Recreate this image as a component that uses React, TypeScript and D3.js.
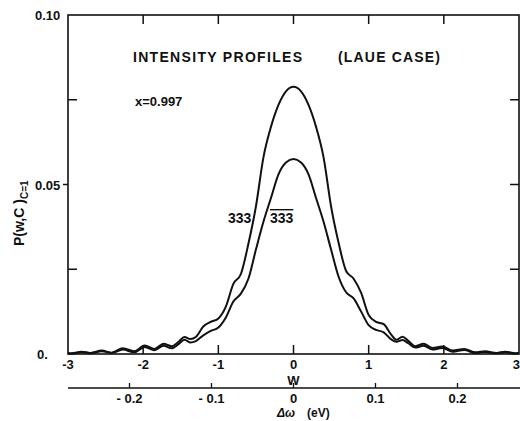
import React from "react";
import * as d3 from "d3";

// W (dimensionless deviation) sample positions
const wValues = [
  -3.0, -2.95, -2.82, -2.7, -2.55, -2.42, -2.27, -2.12, -1.98, -1.85, -1.73, -1.62, -1.53, -1.45, -1.37, -1.3,
  -1.2, -1.1, -1.0, -0.9, -0.8, -0.7, -0.6, -0.5, -0.4, -0.3, -0.2, -0.1, 0,
  0.1, 0.2, 0.3, 0.4, 0.5, 0.6, 0.7, 0.8, 0.9, 1.0, 1.1, 1.2, 1.3, 1.37, 1.45, 1.53, 1.62, 1.73, 1.85,
  1.98, 2.12, 2.27, 2.42, 2.55, 2.7, 2.82, 2.95, 3.0,
];

// 333 reflection (upper curve)
const p333 = [
  0.0003, 0.0002, 0.0007, 0.0003, 0.0010, 0.0004, 0.0017, 0.0008, 0.0025, 0.0015, 0.0030, 0.0023, 0.0036, 0.0050, 0.0044, 0.0050,
  0.0081, 0.0095, 0.0105, 0.0140, 0.0207, 0.0236, 0.0325, 0.0435, 0.0580, 0.0670, 0.0735, 0.0775, 0.0788,
  0.0775, 0.0735, 0.0670, 0.0580, 0.0435, 0.0328, 0.0245, 0.0222, 0.0180, 0.0115, 0.0095, 0.0088, 0.0057, 0.0042, 0.0051, 0.0038, 0.0023, 0.0030, 0.0018,
  0.0022, 0.0010, 0.0015, 0.0005, 0.0008, 0.0003, 0.0007, 0.0002, 0.0003,
];

// 333-bar reflection (lower curve)
const p333bar = [
  0.0001, 0.0001, 0.0005, 0.0002, 0.0008, 0.0003, 0.0013, 0.0005, 0.0021, 0.0011, 0.0024, 0.0017, 0.0029, 0.0042, 0.0034, 0.0038,
  0.0055, 0.0068, 0.0078, 0.0108, 0.0155, 0.0178, 0.0222, 0.0308, 0.0390, 0.0460, 0.0530, 0.0565, 0.0575,
  0.0565, 0.0530, 0.0460, 0.0390, 0.0308, 0.0228, 0.0182, 0.0164, 0.0125, 0.0085, 0.0071, 0.0064, 0.0043, 0.0036, 0.0041, 0.0031, 0.0019, 0.0024, 0.0013,
  0.0018, 0.0007, 0.0012, 0.0003, 0.0006, 0.0002, 0.0005, 0.0001, 0.0002,
];

const wTicks = [-3, -2, -1, 0, 1, 2, 3];
const wTickLabels = ["-3", "-2", "-1", "0", "1", "2", "3"];
const yMajorTicks = [0, 0.05, 0.1];
const yMajorLabels = ["0.", "0.05", "0.10"];
const yMinorTicks = [0.025, 0.075];
const eVTicks = [-0.2, -0.1, 0, 0.1, 0.2];
const eVTickLabels = ["- 0.2", "- 0.1", "0", "0.1", "0.2"];

const W = 520;
const H = 421;
const left = 68;
const right = 519;
const top = 15;
const bottom = 354;
const eVAxisY = 388;
const font = "'Liberation Sans', Arial, sans-serif";

export default function App() {
  const x = d3.scaleLinear().domain([-3, 3]).range([left, right]);
  const y = d3.scaleLinear().domain([0, 0.1]).range([bottom, top]);
  const xe = d3.scaleLinear().domain([-0.275, 0.275]).range([left, right]);

  const line = d3
    .line<number>()
    .x((_, i) => x(wValues[i]))
    .y((d) => y(d))
    .curve(d3.curveMonotoneX);

  const tickLen = 9;

  return (
    <svg
      width={W}
      height={H}
      style={{ position: "absolute", left: 0, top: 0, background: "#fff" }}
      fontFamily={font}
    >
      <rect x={0} y={0} width={W} height={H} fill="#fff" />
      {/* frame */}
      <rect x={left} y={top} width={right - left} height={bottom - top} fill="none" stroke="#111" strokeWidth={1.6} />

      {/* W ticks bottom (inward) and top (inward) */}
      {wTicks.slice(1, -1).map((t) => (
        <g key={"wt" + t}>
          <line x1={x(t)} x2={x(t)} y1={bottom} y2={bottom - tickLen} stroke="#111" strokeWidth={1.5} />
          <line x1={x(t)} x2={x(t)} y1={top} y2={top + tickLen} stroke="#111" strokeWidth={1.5} />
        </g>
      ))}
      {wTicks.map((t, i) => (
        <text
          key={"wl" + t}
          x={i === wTicks.length - 1 ? W : x(t)}
          y={369}
          textAnchor={i === wTicks.length - 1 ? "end" : "middle"}
          fontSize={13}
          fontWeight="bold"
          fill="#111"
        >
          {wTickLabels[i]}
        </text>
      ))}
      <text x={x(0)} y={385} textAnchor="middle" fontSize={13} fontWeight="bold" fill="#111">
        W
      </text>

      {/* y ticks */}
      {yMinorTicks.map((t) => (
        <g key={"ym" + t}>
          <line x1={left} x2={left + tickLen} y1={y(t)} y2={y(t)} stroke="#111" strokeWidth={1.5} />
          <line x1={right} x2={right - tickLen} y1={y(t)} y2={y(t)} stroke="#111" strokeWidth={1.5} />
        </g>
      ))}
      <line x1={left - 5} x2={left} y1={y(0.05)} y2={y(0.05)} stroke="#111" strokeWidth={1.5} />
      <line x1={right} x2={right - tickLen} y1={y(0.05)} y2={y(0.05)} stroke="#111" strokeWidth={1.5} />
      {yMajorTicks.map((t, i) => (
        <text key={"yl" + t} x={t === 0 ? 37 : 35} y={y(t) + 5} fontSize={13} fontWeight="bold" fill="#111">
          {yMajorLabels[i]}
        </text>
      ))}

      {/* y axis label */}
      <text transform={`translate(24,246) rotate(-90)`} fontSize={14} fontWeight="bold" fill="#111">
        P(w,C )
        <tspan fontSize={10} dy={4}>
          C=1
        </tspan>
      </text>

      {/* energy axis */}
      <line x1={left} x2={right + 1} y1={eVAxisY} y2={eVAxisY} stroke="#111" strokeWidth={1.3} />
      {eVTicks.map((t) => (
        <line key={"et" + t} x1={xe(t)} x2={xe(t)} y1={eVAxisY} y2={eVAxisY - 5} stroke="#111" strokeWidth={1.3} />
      ))}
      {eVTicks.map((t, i) => (
        <text key={"el" + t} x={xe(t)} y={403} textAnchor="middle" fontSize={13} fontWeight="bold" fill="#111">
          {eVTickLabels[i]}
        </text>
      ))}
      <text x={277} y={417} fontSize={12} fontWeight="bold" fill="#111">
        <tspan fontStyle="italic">Δω</tspan>
        <tspan dx={12}>(eV)</tspan>
      </text>

      {/* curves */}
      <path d={line(p333) || ""} fill="none" stroke="#111" strokeWidth={2} />
      <path d={line(p333bar) || ""} fill="none" stroke="#111" strokeWidth={2} />

      {/* annotations */}
      <text x={133} y={62} fontSize={14} fontWeight="bold" fill="#111" textLength={169} lengthAdjust="spacing">
        INTENSITY PROFILES
      </text>
      <text x={338} y={62} fontSize={14} fontWeight="bold" fill="#111" textLength={102} lengthAdjust="spacing">
        (LAUE CASE)
      </text>
      <text x={135} y={106} fontSize={13} fontWeight="bold" fill="#111">
        x=0.997
      </text>
      <text x={228} y={223} fontSize={14} fontWeight="bold" fill="#111">
        333
      </text>
      <text x={270} y={223} fontSize={14} fontWeight="bold" fill="#111" textDecoration="overline">
        333
      </text>
    </svg>
  );
}
